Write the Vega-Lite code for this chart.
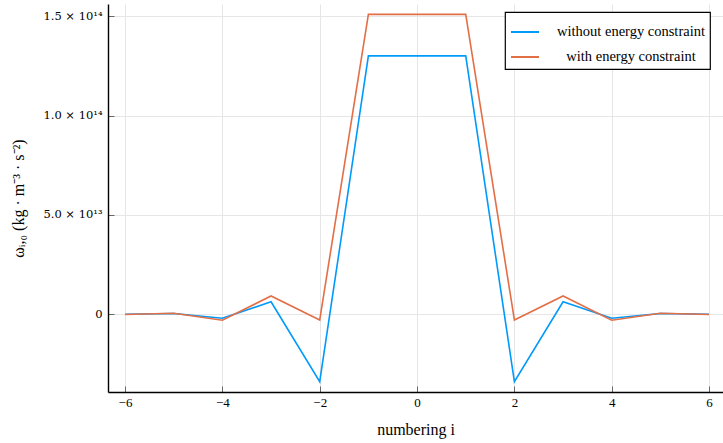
{
  "$schema": "https://vega.github.io/schema/vega-lite/v6.json",
  "width": 615,
  "height": 388,
  "autosize": {"type": "none"},
  "padding": {"left": 108, "top": 4, "right": 0, "bottom": 51},
  "background": "white",
  "config": {
    "view": {"stroke": null},
    "font": "Liberation Serif",
    "axis": {
      "domainColor": "black",
      "domainWidth": 1.4,
      "gridColor": "#e6e6e6",
      "gridWidth": 1,
      "tickColor": "#666666",
      "tickSize": -6,
      "tickWidth": 1,
      "labelFont": "Liberation Serif",
      "labelFontSize": 13,
      "labelColor": "black",
      "titleFont": "Liberation Serif",
      "titleFontSize": 16,
      "titleFontWeight": "normal",
      "titleColor": "black"
    },
    "legend": {
      "labelFont": "Liberation Serif",
      "labelFontSize": 14.5,
      "labelColor": "black"
    }
  },
  "data": {
    "values": [
      {"i": -6, "omega": 0, "series": "without energy constraint"},
      {"i": -5, "omega": 4e11, "series": "without energy constraint"},
      {"i": -4, "omega": -2.0e12, "series": "without energy constraint"},
      {"i": -3, "omega": 6.3e12, "series": "without energy constraint"},
      {"i": -2, "omega": -3.39e13, "series": "without energy constraint"},
      {"i": -1, "omega": 1.30e14, "series": "without energy constraint"},
      {"i": 0, "omega": 1.30e14, "series": "without energy constraint"},
      {"i": 1, "omega": 1.30e14, "series": "without energy constraint"},
      {"i": 2, "omega": -3.39e13, "series": "without energy constraint"},
      {"i": 3, "omega": 6.3e12, "series": "without energy constraint"},
      {"i": 4, "omega": -2.0e12, "series": "without energy constraint"},
      {"i": 5, "omega": 4e11, "series": "without energy constraint"},
      {"i": 6, "omega": 0, "series": "without energy constraint"},
      {"i": -6, "omega": -1e11, "series": "with energy constraint"},
      {"i": -5, "omega": 5e11, "series": "with energy constraint"},
      {"i": -4, "omega": -3.0e12, "series": "with energy constraint"},
      {"i": -3, "omega": 9.2e12, "series": "with energy constraint"},
      {"i": -2, "omega": -2.85e12, "series": "with energy constraint"},
      {"i": -1, "omega": 1.509e14, "series": "with energy constraint"},
      {"i": 0, "omega": 1.509e14, "series": "with energy constraint"},
      {"i": 1, "omega": 1.509e14, "series": "with energy constraint"},
      {"i": 2, "omega": -2.85e12, "series": "with energy constraint"},
      {"i": 3, "omega": 9.2e12, "series": "with energy constraint"},
      {"i": 4, "omega": -3.0e12, "series": "with energy constraint"},
      {"i": 5, "omega": 5e11, "series": "with energy constraint"},
      {"i": 6, "omega": -1e11, "series": "with energy constraint"}
    ]
  },
  "mark": {"type": "line", "strokeWidth": 1.6, "clip": true},
  "encoding": {
    "x": {
      "field": "i",
      "type": "quantitative",
      "scale": {"domain": [-6.35, 6.286], "nice": false, "zero": false},
      "axis": {
        "title": "numbering i",
        "values": [-6, -4, -2, 0, 2, 4, 6],
        "labelPadding": 10,
        "titlePadding": 12
      }
    },
    "y": {
      "field": "omega",
      "type": "quantitative",
      "scale": {"domain": [-3.91e13, 1.561e14], "nice": false, "zero": false},
      "axis": {
        "title": "ωᵢ,₀ (kg · m⁻³ · s⁻²)",
        "values": [0, 5e13, 1e14, 1.5e14],
        "labelExpr": "datum.value == 0 ? '0' : datum.value < 6e13 ? '5.0 × 10¹³' : datum.value < 1.2e14 ? '1.0 × 10¹⁴' : '1.5 × 10¹⁴'",
        "labelFont": "DejaVu Serif",
        "labelFontSize": 11.5,
        "labelPadding": 12,
        "titlePadding": 16
      }
    },
    "color": {
      "field": "series",
      "type": "nominal",
      "sort": ["without energy constraint", "with energy constraint"],
      "scale": {
        "domain": ["without energy constraint", "with energy constraint"],
        "range": ["#009AFA", "#E36F47"]
      },
      "legend": {
        "title": null,
        "orient": "none",
        "legendX": 397,
        "legendY": 8,
        "symbolType": "stroke",
        "symbolSize": 784,
        "symbolStrokeWidth": 2,
        "labelAlign": "center",
        "labelOffset": 91,
        "rowPadding": 3,
        "padding": 5,
        "fillColor": "white",
        "strokeColor": "black",
        "cornerRadius": 0,
        "encode": {"legend": {"update": {"strokeWidth": {"value": 1.2}}}}
      }
    }
  }
}
